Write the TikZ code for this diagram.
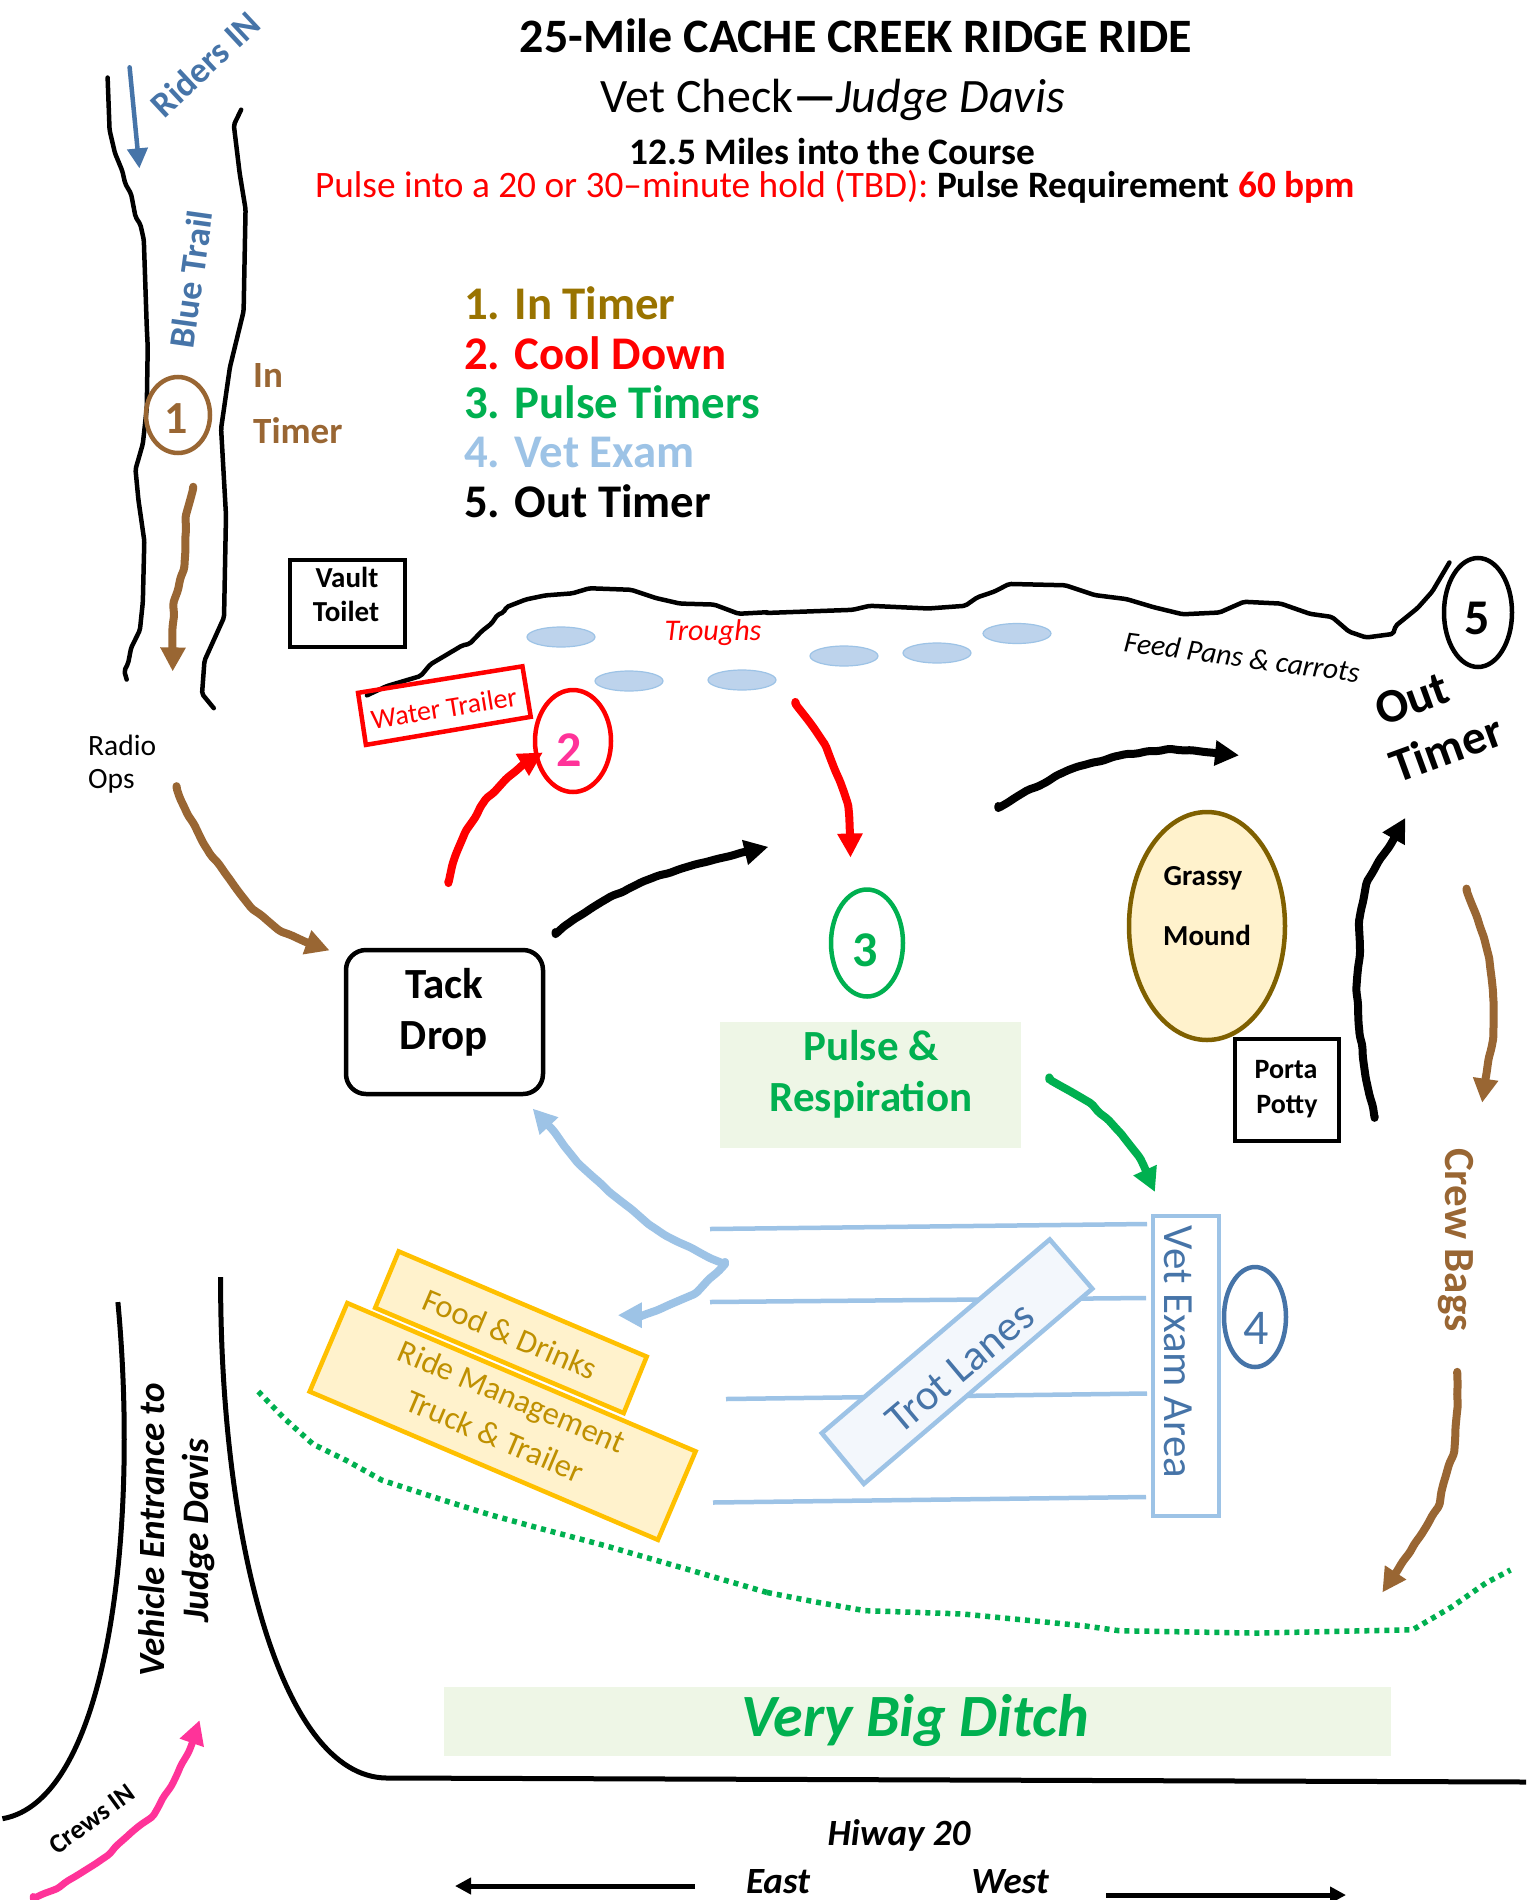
\documentclass[tikz,border=0pt]{standalone}
\usepackage{fontspec}
\setmainfont{Carlito}
\usetikzlibrary{arrows.meta,calc,shapes.geometric,decorations.pathmorphing}
\pgfmathsetseed{20}
\definecolor{brn}{HTML}{996633}
\definecolor{leg}{HTML}{997300}
\definecolor{stl}{HTML}{4674A8}
\definecolor{lbl}{HTML}{9DC3E6}
\definecolor{grn}{HTML}{00B050}
\definecolor{pnk}{HTML}{FF3399}
\definecolor{ylw}{HTML}{FFC000}
\definecolor{ylf}{HTML}{FFF2CC}
\definecolor{ytx}{HTML}{BF9000}
\definecolor{mnd}{HTML}{7F6000}
\definecolor{pgr}{HTML}{EEF6E6}
\definecolor{trt}{HTML}{F3F7FC}
\definecolor{trf}{HTML}{BDD3EC}
\tikzset{
 tr/.style={inner sep=0pt,font=\fontsize{#1}{#1}\selectfont},
 tb/.style={inner sep=0pt,font=\bfseries\fontsize{#1}{#1}\selectfont},
 ti/.style={inner sep=0pt,font=\itshape\fontsize{#1}{#1}\selectfont},
 tbi/.style={inner sep=0pt,font=\bfseries\itshape\fontsize{#1}{#1}\selectfont},
 zone/.style={x=0.48916pt,y=-0.5102pt},
 ztwo/.style={shift={(767pt,-500pt)},x=0.48916pt,y=-0.44643pt},
 zthr/.style={shift={(0pt,-1150pt)},x=0.48916pt,y=-0.47832pt},
 zfou/.style={shift={(767pt,-1150pt)},x=0.48916pt,y=-0.47832pt},
 zfiv/.style={shift={(100pt,-680pt)},x=0.5102pt,y=-0.5102pt},
 hand/.style={line width=#1,rounded corners=2pt,line cap=round,line join=round},
 arr/.style={hand=#1,-{Triangle[length=24pt,width=24pt]},decorate,decoration={random steps,segment length=11pt,amplitude=0.9pt,post length=14pt}},
 sarr/.style={hand=#1,-{Triangle[length=20pt,width=20pt]}},
 trough/.style={draw=lbl,fill=trf,line width=1.2pt},
 lane/.style={draw=lbl,line width=4.5pt},
 dots/.style={line width=5.5pt,grn,dash pattern=on 5pt off 5pt},
}
\begin{document}
\begin{tikzpicture}[x=1pt,y=-1pt]
\path[use as bounding box,fill=white] (0,0) rectangle (1534,1900);

% pale boxes
\fill[pgr] (720,1022) rectangle (1021,1148);
\fill[pgr] (444,1687) rectangle (1391,1756);

% headings
\node[tb=48] (title) at (856,36) {25-Mile CACHE CREEK RIDGE RIDE};
\node[tr=48] (sub) at (833,100) {Vet Check\textbf{—}\textit{Judge Davis}};
\node[tb=37.4] (miles) at (832,152) {12.5 Miles into the Course};
\node[tr=37.3,text=red] (pulse) at (835,187) {Pulse into a 20 or 30–minute hold (TBD): \textcolor{black}{\textbf{Pulse Requirement}} \textbf{60 bpm}};

% legend
\node[tb=46.8,text=leg,anchor=west] (l1) at (464,303) {1. In Timer};
\node[tb=46.8,text=red,anchor=west] (l2) at (464,353) {2. Cool Down};
\node[tb=46.8,text=grn,anchor=west] (l3) at (464,402) {3. Pulse Timers};
\node[tb=46.8,text=lbl,anchor=west] (l4) at (464,452) {4. Vet Exam};
\node[tb=46.8,anchor=west] (l5) at (464,501) {5. Out Timer};

% trail
\begin{scope}[zone]
\draw[hand=4.5pt] (220,152)--(224,255)--(235,300)--(250,335)--(256,360)--(268,380)--(277,425)--(287,440)--(294,470)--(300,640)--(302,680)--(300,800)--(292,870)--(277,920)--(283,980)--(295,1060)--(292,1180)--(286,1235)--(268,1270)--(262,1300)--(254,1315)--(259,1332);
\draw[hand=4.5pt] (493,215)--(478,245)--(490,340)--(502,410)--(498,610)--(470,720)--(452,840)--(462,1010)--(458,1210)--(418,1295)--(413,1360)--(437,1388);
\draw[sarr=4.5pt,stl] (265,132)--(285,330);
\draw[arr=8pt,brn] (395,958)--(380,1010)--(377,1110)--(355,1180)--(353,1316);
% ridge, left part
\draw[hand=4.5pt] (750,1363)--(790,1345)--(860,1325)--(880,1302)--(910,1285)--(945,1265)--(960,1262)--(985,1237)--(1005,1222)--(1017,1205)--(1030,1200)--(1035,1190)--(1075,1175)--(1115,1167)--(1170,1163)--(1205,1153)--(1290,1156)--(1340,1172)--(1390,1183)--(1460,1185)--(1510,1203)--(1568,1200);
\draw[red,line width=4.5pt,line join=miter] (732,1358)--(1068,1306)--(1085,1405)--(748,1460)--cycle;
\end{scope}
\begin{scope}[ztwo]
\draw[hand=4.5pt] (0,253)--(175,246)--(210,237)--(330,243)--(405,237)--(430,218)--(465,205)--(495,188)--(610,191)--(670,213)--(735,222)--(790,240)--(850,256)--(925,252)--(975,228)--(1050,232)--(1110,255)--(1155,262)--(1190,295)--(1225,308)--(1280,300)--(1285,282)--(1330,242)--(1360,205)--(1395,140);
\draw[arr=8pt] (473,690)--(510,665)--(610,608)--(660,590)--(730,570)--(820,558)--(900,565)--(965,572);
\draw[arr=8pt] (1242,1384)--(1225,1300)--(1210,1180)--(1205,1100)--(1212,1020)--(1210,950)--(1225,860)--(1250,810)--(1270,780)--(1305,712);
\draw[arr=8pt,brn] (1430,875)--(1450,930)--(1475,1020)--(1485,1120)--(1485,1200)--(1470,1290)--(1462,1350);
\draw[arr=8pt,grn] (577,1298)--(660,1350)--(720,1415)--(760,1470)--(793,1550);
\end{scope}

% troughs
\foreach \c in {(561,637),(629,681),(742,680),(844,656),(937,653),(1017,633.5)}
  \path[trough] \c ellipse [x radius=34pt,y radius=10pt];
\node[ti=30,text=red] (troughs) at (713,633) {Troughs};
\node[ti=29.5,rotate=-7.6] (feed) at (1242,657) {Feed Pans \& carrots};

% top-left labels
\node[tb=36,text=stl,rotate=43] (riders) at (205,64) {Riders IN};
\node[tb=36,text=stl,rotate=82] (bluetrail) at (191,279) {Blue Trail};
\node[draw=brn,ellipse,line width=4.5pt,minimum width=64pt,minimum height=76pt,inner sep=0pt] (c1) at (178,415) {};
\node[tb=46,text=brn] (n1) at (176,419) {1};
\node[tb=37,text=brn,anchor=west] (in) at (253,376) {In};
\node[tb=37,text=brn,anchor=west] (timer) at (253,431) {Timer};

% vault toilet
\node[draw,line width=4.5pt,minimum width=115pt,minimum height=87pt,inner sep=0pt] (vault) at (347.5,603.5) {};
\node[tb=29] (vt1) at (347,577) {Vault};
\node[tb=29] (vt2) at (346,611) {Toilet};

\node[tr=28,rotate=9.2,text=red] (water) at (444,708) {Water Trailer};

\node[tr=29.5,anchor=west] (radio) at (88,745) {Radio};
\node[tr=29.5,anchor=west] (ops) at (88,781) {Ops};

% station 2
\node[draw=red,ellipse,line width=4.5pt,minimum width=76pt,minimum height=102pt,inner sep=0pt] (c2) at (573,741) {};
\node[tb=50,text=pnk] (n2) at (569,750) {2};

\begin{scope}[zfiv]
\draw[arr=8pt,red] (683,398)--(690,365)--(715,300)--(735,270)--(755,235)--(770,222)--(795,195)--(830,165)--(868,142);
\draw[arr=8pt,red] (1363,47)--(1385,75)--(1420,125)--(1440,175)--(1465,240)--(1470,300)--(1471,348);
\draw[arr=8pt] (893,498)--(925,472)--(1000,425)--(1040,407)--(1090,385)--(1165,362)--(1235,345)--(1310,327);
\draw[arr=8pt,brn] (150,212)--(170,260)--(215,340)--(250,385)--(295,445)--(350,490)--(400,512)--(450,530);
\draw[arr=8pt,lbl] (1225,1145)--(1200,1135)--(1130,1100)--(1080,1070)--(1000,1005)--(940,950)--(890,885)--(848,840);
\draw[arr=8pt,lbl] (1225,1145)--(1170,1200)--(1115,1225)--(1065,1245)--(1015,1245);
\end{scope}

% tack drop
\node[draw,line width=4.5pt,rounded corners=20pt,minimum width=197pt,minimum height=144pt,inner sep=0pt] (tack) at (444.5,1022) {};
\node[tb=43] (td1) at (444,984) {Tack};
\node[tb=43] (td2) at (444,1039) {Drop};

% station 3
\node[draw=grn,ellipse,line width=4.5pt,minimum width=72pt,minimum height=107pt,inner sep=0pt] (c3) at (867,943) {};
\node[tb=50,text=grn] (n3) at (865,950) {3};
\node[tb=43,text=grn] (p1) at (871,1046) {Pulse \&};
\node[tb=43,text=grn] (p2) at (871,1100) {Respiration};

% mound and potty
\node[draw=mnd,fill=ylf,ellipse,line width=4.5pt,minimum width=156pt,minimum height=228pt,inner sep=0pt] (mound) at (1207,926) {};
\node[tb=29] (m1) at (1203,878) {Grassy};
\node[tb=29] (m2) at (1207,935) {Mound};
\node[draw,fill=white,line width=4.5pt,minimum width=104pt,minimum height=102pt,inner sep=0pt] (potty) at (1287,1090) {};
\node[tb=28] (po1) at (1286,1070) {Porta};
\node[tb=28] (po2) at (1287,1107) {Potty};

% station 5
\node[draw,ellipse,line width=4.5pt,minimum width=68pt,minimum height=109pt,inner sep=0pt] (c5) at (1478,612.5) {};
\node[tb=50] (n5) at (1477,618) {5};
\node[tb=48,rotate=20] (o1) at (1412,699) {Out};
\node[tb=48,rotate=20] (o2) at (1446,748) {Timer};
\node[tb=43,text=brn,rotate=-90] (crew) at (1456,1240) {Crew Bags};

% lanes
\draw[lane] (710,1229)--(1147,1224);
\draw[lane] (710,1302)--(1146,1298);
\draw[lane] (726,1399)--(1147,1393.5);
\draw[lane] (713,1502.5)--(1146,1497);
\begin{scope}[zfou]
\draw[draw=lbl,fill=trt,line width=4.5pt] (578,187)--(665,290)--(198,698)--(112,592)--cycle;
\draw[arr=8pt,brn] (1411,468)--(1412,530)--(1405,630)--(1385,690)--(1375,740)--(1340,800)--(1300,860)--(1258,925);
\end{scope}
\node[tr=43,text=stl,rotate=40] (trotl) at (960,1368) {Trot Lanes};
\node[draw=lbl,line width=4.5pt,minimum width=66pt,minimum height=300pt,inner sep=0pt] (vetbox) at (1186,1366) {};
\node[tr=43,text=stl,rotate=-90] (vet) at (1178,1352) {Vet Exam Area};
\node[draw=stl,ellipse,line width=4.5pt,minimum width=62pt,minimum height=100pt,inner sep=0pt] (c4) at (1255,1317) {};
\node[tr=50,text=stl] (n4) at (1256,1328) {4};

% yellow boxes
\begin{scope}[zthr]
\draw[draw=ylw,fill=ylf,line width=4.5pt] (815,212)--(1322,432)--(1275,550)--(767,330)--cycle;
\draw[draw=ylw,fill=ylf,line width=4.5pt] (710,320)--(1422,630)--(1345,815)--(633,505)--cycle;
\draw[arr=7pt,pnk] (68,1565)--(115,1545)--(220,1475)--(265,1430)--(310,1395)--(350,1330)--(385,1260)--(408,1192);
\draw[dots] (528,505)--(580,560)--(640,615)--(710,650)--(780,690)--(900,730)--(1000,762)--(1100,790)--(1240,828)--(1400,875)--(1568,925);
\draw[line width=5pt] (241,318) .. controls (285,800) and (220,1360) .. (5,1398);
\end{scope}
\begin{scope}[zfou]
\draw[dots] (0,925)--(100,945)--(200,963)--(400,970)--(650,995)--(720,1005)--(1000,1010)--(1320,1003)--(1400,955)--(1470,905)--(1520,878);
\end{scope}
\node[tr=32.5,text=ytx,rotate=-23] (food) at (510,1334) {Food \& Drinks};
\node[tr=32.5,text=ytx,rotate=-23] (ride) at (511,1399) {Ride Management};
\node[tr=32.5,text=ytx,rotate=-23] (truck) at (495,1436) {Truck \& Trailer};

% roads
\draw[line width=5pt] (220.6,1277) .. controls (220,1533) and (279,1776.6) .. (386.4,1778) -- (1526,1782);
\node[tbi=37,rotate=90] (veh) at (152,1530) {Vehicle Entrance to};
\node[tbi=37.5,rotate=90] (jud) at (199,1531) {Judge Davis};
\node[tb=27,rotate=36] (crews) at (92,1819) {Crews IN};

% ditch and highway
\node[tbi=60,text=grn] (ditch) at (915,1720) {Very Big Ditch};
\node[tbi=37] (hi) at (899,1835) {Hiway 20};
\node[tbi=37] (east) at (778,1882) {East};
\node[tbi=37] (west) at (1010,1882) {West};
\draw[line width=5pt,-{Triangle[length=16pt,width=16pt]}] (695,1886)--(455,1886);
\draw[line width=5pt,-{Triangle[length=16pt,width=16pt]}] (1106,1895)--(1346,1895);
\end{tikzpicture}
\end{document}
